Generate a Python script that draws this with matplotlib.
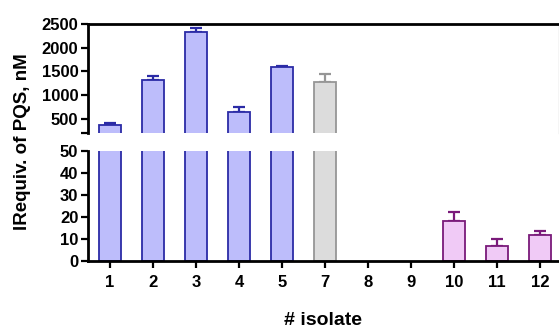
import matplotlib
matplotlib.use('Agg')
import matplotlib.pyplot as plt
import numpy as np

plt.rcParams['font.family'] = ['Liberation Sans', 'DejaVu Sans']

isolates = ['1', '2', '3', '4', '5', '7', '8', '9', '10', '11', '12']
values = [375, 1310, 2330, 640, 1590, 1280, 0, 0, 18.0, 6.7, 11.9]
errors = [35, 85, 85, 100, 15, 170, 0, 0, 4.3, 3.1, 1.9]
groups = ['blue', 'blue', 'blue', 'blue', 'blue', 'gray', 'none', 'none', 'pink', 'pink', 'pink']

fills = {'blue': '#BDBDFB', 'gray': '#DCDCDC', 'pink': '#F0CAF6', 'none': 'white'}
edges = {'blue': '#2B2BA6', 'gray': '#969696', 'pink': '#7A1A7A', 'none': 'white'}

x = np.arange(len(isolates))
fig = plt.figure(figsize=(5.59, 3.28), dpi=100)
ax_top = fig.add_axes([0.1574, 0.5945, 0.8426, 0.3323])
ax_bot = fig.add_axes([0.1574, 0.2043, 0.8426, 0.3353])

for ax in (ax_top, ax_bot):
    for i in range(len(isolates)):
        g = groups[i]
        if g == 'none':
            continue
        ax.bar(x[i], values[i], width=0.5, color=fills[g], edgecolor=edges[g],
               linewidth=1.3, zorder=2)
        ax.errorbar(x[i], values[i], yerr=[[0], [errors[i]]], fmt='none',
                    ecolor=edges[g], elinewidth=1.6, capsize=4, capthick=1.6, zorder=1)
    ax.set_xlim(-0.51, 10.44)
    ax.tick_params(axis='both', direction='out', length=5, width=1.6, labelsize=12)

ax_top.set_ylim(200, 2500)
ax_top.set_yticks([200, 500, 1000, 1500, 2000, 2500])
ax_top.set_yticklabels(['', '500', '1000', '1500', '2000', '2500'], fontweight='bold')
ax_top.set_xticks([])
ax_top.spines['bottom'].set_visible(False)
ax_top.spines['left'].set_linewidth(2)
ax_top.spines['top'].set_linewidth(2)
ax_top.spines['right'].set_color('#cccccc')
ax_top.spines['right'].set_linewidth(1)
ax_top.tick_params(axis='y', pad=2)

ax_bot.set_ylim(0, 50)
ax_bot.set_yticks([0, 10, 20, 30, 40, 50])
ax_bot.set_yticklabels(['0', '10', '20', '30', '40', '50'], fontweight='bold')
ax_bot.set_xticks(x)
ax_bot.set_xticklabels(isolates, fontweight='bold')
ax_bot.spines['top'].set_visible(False)
ax_bot.spines['right'].set_visible(False)
ax_bot.spines['left'].set_linewidth(2)
ax_bot.spines['bottom'].set_linewidth(2)
ax_bot.tick_params(axis='x', pad=5)
ax_bot.tick_params(axis='y', pad=2)

fig.text(0.041, 0.569, 'lRequiv. of PQS, nM', rotation=90, ha='center', va='center',
         fontsize=13.5, fontweight='bold')
fig.text(0.578, 0.024, '# isolate', ha='center', va='center', fontsize=14, fontweight='bold')

fig.savefig('out.png', dpi=100)
